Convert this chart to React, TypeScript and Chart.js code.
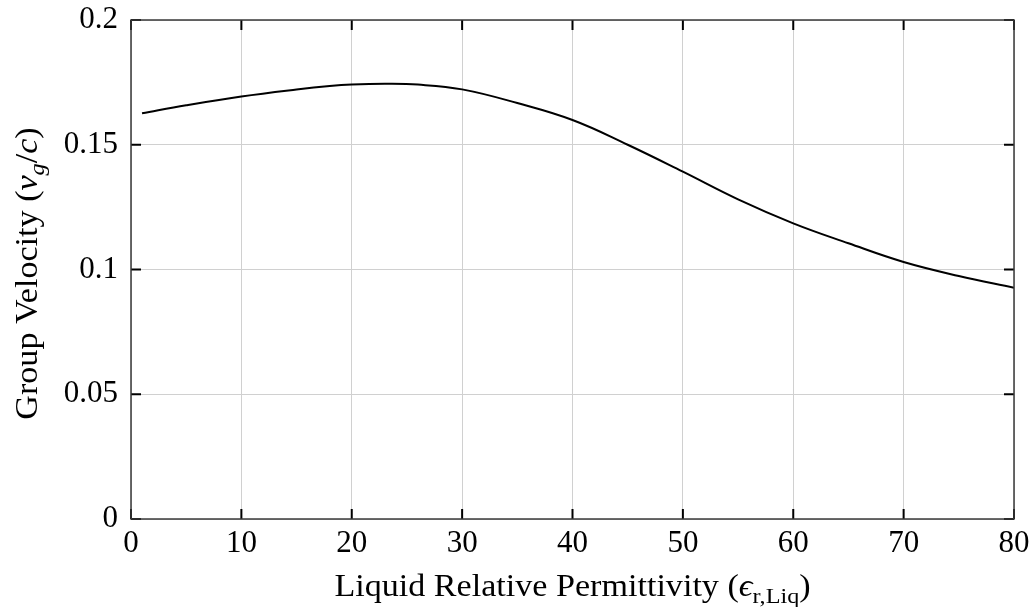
import React, { useEffect, useRef } from "react";
import { Chart, registerables } from "chart.js";

Chart.register(...registerables);

// ---- data ----
const permittivity = [1, 5, 10, 15, 18, 20, 23, 26, 30, 35, 40, 45, 50, 55, 60, 65, 70, 75, 80];
const groupVelocity = [
  0.1626, 0.1658, 0.1693, 0.1721, 0.1735, 0.1741, 0.1744, 0.1741, 0.1722, 0.1667, 0.1599, 0.15,
  0.1392, 0.1281, 0.1185, 0.1105, 0.103, 0.0974, 0.0927,
];
const xTicks = [0, 10, 20, 30, 40, 50, 60, 70, 80];
const xTickLabels = ["0", "10", "20", "30", "40", "50", "60", "70", "80"];
const yTicks = [0, 0.05, 0.1, 0.15, 0.2];
const yTickLabels = ["0", "0.05", "0.1", "0.15", "0.2"];

type Seg = { text: string; italic?: boolean; sub?: boolean };
const xTitle: Seg[] = [
  { text: "Liquid Relative Permittivity (" },
  { text: "\u03F5", italic: true },
  { text: "r,Liq", sub: true },
  { text: ")" },
];
const yTitle: Seg[] = [
  { text: "Group Velocity (" },
  { text: "v", italic: true },
  { text: "g", italic: true, sub: true },
  { text: "/" },
  { text: "c", italic: true },
  { text: ")" },
];

const FONT = "'Liberation Serif', 'DejaVu Serif', serif";
const FS = 31;
const TITLE_STRETCH = 1.1;

function segFont(s: Seg, size: number) {
  const sz = s.sub ? Math.round(size * 0.7) : size;
  return `${s.italic ? "italic " : ""}${sz}px ${FONT}`;
}

function drawRich(ctx: CanvasRenderingContext2D, segs: Seg[], size: number) {
  // draws centered horizontally at (0,0), alphabetic baseline
  let total = 0;
  const widths = segs.map((s) => {
    ctx.font = segFont(s, size);
    const w = ctx.measureText(s.text).width;
    total += w;
    return w;
  });
  let x = -total / 2;
  ctx.textBaseline = "alphabetic";
  ctx.textAlign = "left";
  segs.forEach((s, i) => {
    ctx.font = segFont(s, size);
    ctx.fillText(s.text, x, s.sub ? size * 0.22 : 0);
    x += widths[i];
  });
}

const framePlugin = {
  id: "frame",
  afterDatasetsDraw(chart: any) {
    const { ctx, chartArea } = chart;
    const { left, right, top, bottom } = chartArea;
    const xs = chart.scales.x;
    const ys = chart.scales.y;
    ctx.save();
    ctx.strokeStyle = "#000";
    ctx.lineWidth = 2;
    const TL = 10;
    ctx.beginPath();
    xTicks.forEach((v) => {
      const p = xs.getPixelForValue(v);
      ctx.moveTo(p, bottom);
      ctx.lineTo(p, bottom - TL);
      ctx.moveTo(p, top);
      ctx.lineTo(p, top + TL);
    });
    yTicks.forEach((v) => {
      const p = ys.getPixelForValue(v);
      ctx.moveTo(left, p);
      ctx.lineTo(left + TL, p);
      ctx.moveTo(right, p);
      ctx.lineTo(right - TL, p);
    });
    ctx.stroke();
    ctx.strokeStyle = "#3a3a3a";
    ctx.lineWidth = 1.5;
    ctx.strokeRect(left, top, right - left, bottom - top);
    ctx.restore();
  },
  afterDraw(chart: any) {
    const { ctx, chartArea } = chart;
    const { left, right, top, bottom } = chartArea;
    ctx.save();
    ctx.fillStyle = "#000";
    // x title
    ctx.save();
    ctx.translate((left + right) / 2, bottom + 77);
    ctx.scale(TITLE_STRETCH, 1);
    drawRich(ctx, xTitle, FS);
    ctx.restore();
    // y title
    ctx.save();
    ctx.translate(left - 94, (top + bottom) / 2 + 4);
    ctx.rotate(-Math.PI / 2);
    ctx.scale(TITLE_STRETCH, 1);
    drawRich(ctx, yTitle, FS);
    ctx.restore();
    ctx.restore();
  },
};

export default function App() {
  const ref = useRef<HTMLCanvasElement>(null);
  useEffect(() => {
    if (!ref.current) return;
    const chart = new Chart(ref.current, {
      type: "line",
      data: {
        datasets: [
          {
            data: permittivity.map((x, i) => ({ x, y: groupVelocity[i] })),
            borderColor: "#000",
            borderWidth: 2,
            pointRadius: 0,
            fill: false,
            tension: 0.4,
          },
        ],
      },
      options: {
        responsive: false,
        animation: false,
        events: [],
        layout: { padding: { left: 0, right: 22, top: 20, bottom: 0 } },
        plugins: { legend: { display: false }, tooltip: { enabled: false }, title: { display: false } },
        scales: {
          x: {
            type: "linear",
            min: 0,
            max: 80,
            afterBuildTicks: (s: any) => {
              s.ticks = xTicks.map((v) => ({ value: v }));
            },
            afterFit: (s: any) => {
              s.height = 88;
              s.paddingLeft = 0;
              s.paddingRight = 0;
            },
            ticks: {
              font: { family: FONT, size: FS },
              color: "#000",
              padding: 6,
              maxRotation: 0,
              callback: (v: any) => xTickLabels[xTicks.indexOf(Number(v))] ?? "",
            },
            grid: { color: "#d0d0d0", lineWidth: 1, drawTicks: false },
            border: { display: false },
          },
          y: {
            type: "linear",
            min: 0,
            max: 0.2,
            afterBuildTicks: (s: any) => {
              s.ticks = yTicks.map((v) => ({ value: v }));
            },
            afterFit: (s: any) => {
              s.width = 131;
              s.paddingTop = 0;
              s.paddingBottom = 0;
            },
            ticks: {
              font: { family: FONT, size: FS },
              color: "#000",
              padding: 13,
              callback: (v: any) => {
                const i = yTicks.findIndex((t) => Math.abs(t - Number(v)) < 1e-9);
                return i >= 0 ? yTickLabels[i] : "";
              },
            },
            grid: { color: "#d0d0d0", lineWidth: 1, drawTicks: false },
            border: { display: false },
          },
        },
      },
      plugins: [framePlugin],
    } as any);
    return () => chart.destroy();
  }, []);
  return (
    <div style={{ position: "absolute", left: 0, top: 0, width: 1036, height: 607, background: "#fff" }}>
      <canvas ref={ref} width={1036} height={607} style={{ display: "block" }} />
    </div>
  );
}
